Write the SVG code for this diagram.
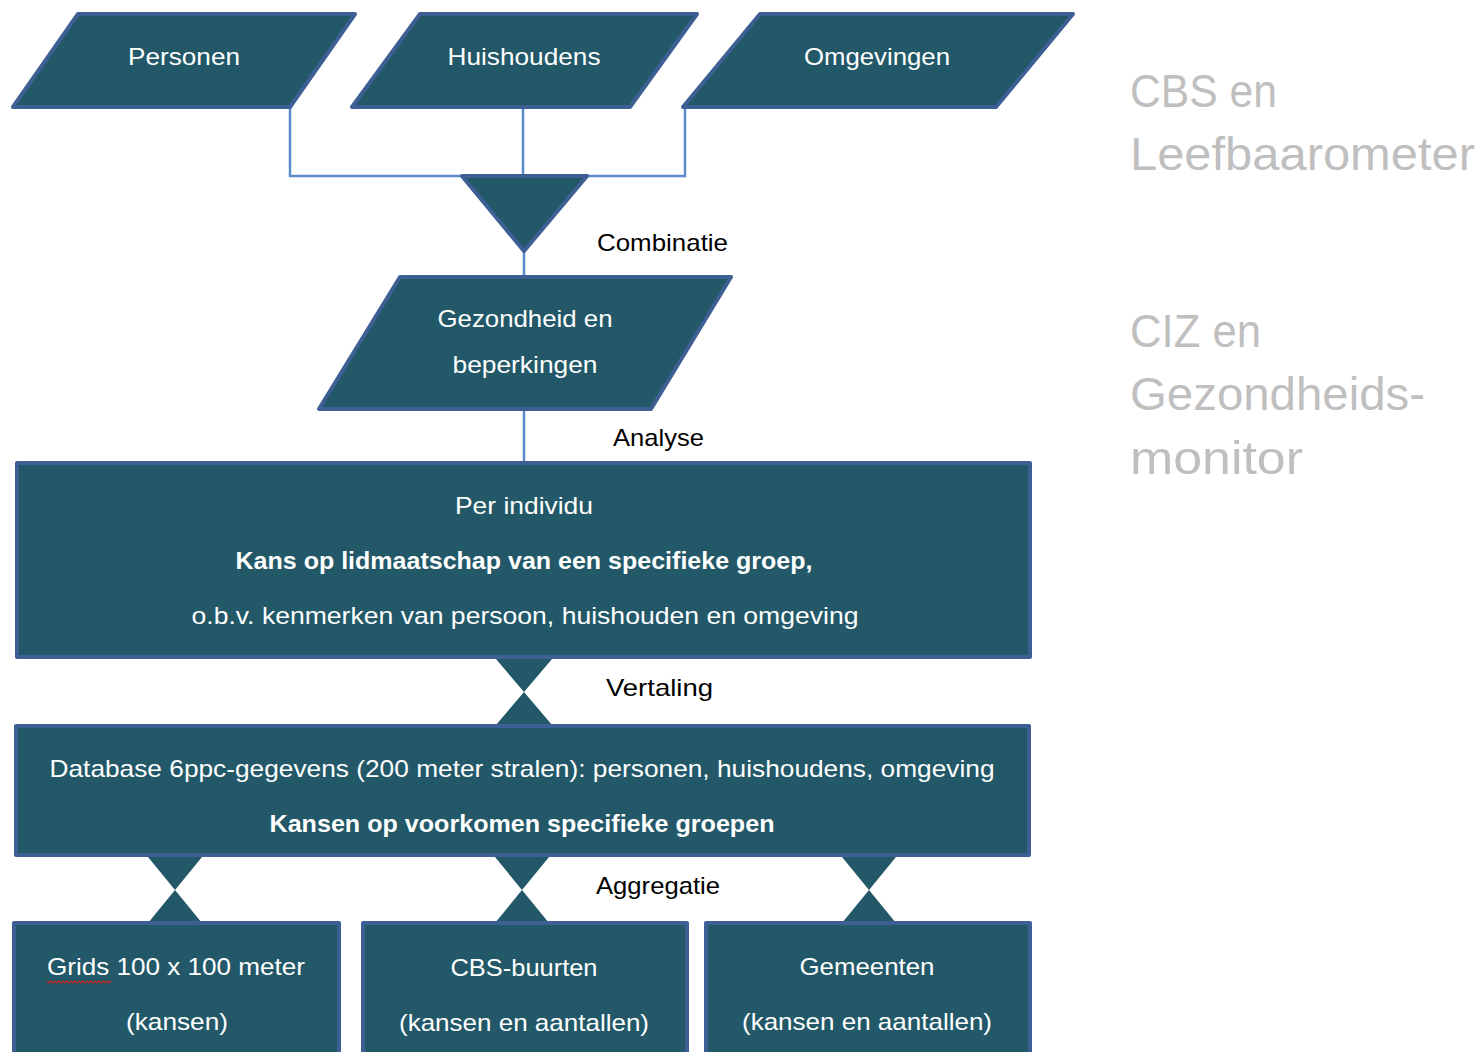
<svg xmlns="http://www.w3.org/2000/svg" width="1481" height="1052" viewBox="0 0 1481 1052">
<style>
.n{fill:#225868;stroke:#3d5f94;stroke-width:4;stroke-linejoin:round}
.c{fill:#225868;stroke:none}
.ln{fill:none;stroke:#5b8bcb;stroke-width:2.5}
.w{fill:#ffffff;font-family:"Liberation Sans",Arial,sans-serif;font-size:24px;text-anchor:middle}
.b{fill:#000000;font-family:"Liberation Sans",Arial,sans-serif;font-size:24px;text-anchor:start}
.g{fill:#bfbfbf;font-family:"Liberation Sans",Arial,sans-serif;font-size:47px;text-anchor:start}
</style>
<rect x="0" y="0" width="1481" height="1052" fill="#ffffff"/>
<g id="connectors">
<polyline class="ln" points="290,107 290,176 685,176 685,107"/>
<line class="ln" x1="523" y1="105" x2="523" y2="176"/>
<line class="ln" x1="524" y1="251" x2="524" y2="277"/>
<line class="ln" x1="524" y1="409" x2="524" y2="463"/>
<polygon class="c" points="496,659 552,659 524,692 552,725 496,725 524,692"/>
<polygon class="c" points="148,857 202,857 175,890 202,923 148,923 175,890"/>
<polygon class="c" points="495,857 549,857 522,890 549,923 495,923 522,890"/>
<polygon class="c" points="842,857 896,857 869,890 896,923 842,923 869,890"/>
</g>
<g id="personen"><polygon class="n" points="78,14 355,14 290,107 13,107"/><text class="w" x="184" y="65" textLength="112" lengthAdjust="spacingAndGlyphs">Personen</text></g>
<g id="huishoudens"><polygon class="n" points="420,14 697,14 630,107 352,107"/><text class="w" x="524" y="65" textLength="153" lengthAdjust="spacingAndGlyphs">Huishoudens</text></g>
<g id="omgevingen"><polygon class="n" points="760,14 1073,14 996,107 683,107"/><text class="w" x="877" y="65" textLength="146" lengthAdjust="spacingAndGlyphs">Omgevingen</text></g>
<g id="combinatie"><polygon class="n" points="462,176 587,176 524,251"/></g>
<g id="gezondheid"><polygon class="n" points="400,277 731,277 651,409 319,409"/><text class="w" x="525" y="327" textLength="175" lengthAdjust="spacingAndGlyphs">Gezondheid en</text><text class="w" x="525" y="373" textLength="145" lengthAdjust="spacingAndGlyphs">beperkingen</text></g>
<g id="per-individu"><rect class="n" x="17" y="463" width="1013" height="194"/><text class="w" x="524" y="514" textLength="138" lengthAdjust="spacingAndGlyphs">Per individu</text><text class="w" x="524" y="569" font-weight="bold" textLength="577" lengthAdjust="spacingAndGlyphs">Kans op lidmaatschap van een specifieke groep,</text><text class="w" x="525" y="624" textLength="667" lengthAdjust="spacingAndGlyphs">o.b.v. kenmerken van persoon, huishouden en omgeving</text></g>
<g id="database"><rect class="n" x="16" y="726" width="1013" height="129"/><text class="w" x="522" y="777" textLength="945" lengthAdjust="spacingAndGlyphs">Database 6ppc-gegevens (200 meter stralen): personen, huishoudens, omgeving</text><text class="w" x="522" y="832" font-weight="bold" textLength="505" lengthAdjust="spacingAndGlyphs">Kansen op voorkomen specifieke groepen</text></g>
<g id="grids"><rect class="n" x="14" y="923" width="325" height="140"/><text class="w" x="176" y="975" textLength="258" lengthAdjust="spacingAndGlyphs">Grids 100 x 100 meter</text><text class="w" x="177" y="1030" textLength="102" lengthAdjust="spacingAndGlyphs">(kansen)</text><polyline fill="none" stroke="#d02020" stroke-width="1.2" points="47,981 49,983 51,981 53,983 55,981 57,983 59,981 61,983 63,981 65,983 67,981 69,983 71,981 73,983 75,981 77,983 79,981 81,983 83,981 85,983 87,981 89,983 91,981 93,983 95,981 97,983 99,981 101,983 103,981 105,983 107,981 109,983 111,981"/></g>
<g id="cbs-buurten"><rect class="n" x="363" y="923" width="324" height="140"/><text class="w" x="524" y="976" textLength="147" lengthAdjust="spacingAndGlyphs">CBS-buurten</text><text class="w" x="524" y="1031" textLength="250" lengthAdjust="spacingAndGlyphs">(kansen en aantallen)</text></g>
<g id="gemeenten"><rect class="n" x="706" y="923" width="324" height="140"/><text class="w" x="867" y="975" textLength="135" lengthAdjust="spacingAndGlyphs">Gemeenten</text><text class="w" x="867" y="1030" textLength="250" lengthAdjust="spacingAndGlyphs">(kansen en aantallen)</text></g>
<g id="labels">
<text class="b" x="597" y="251" textLength="131" lengthAdjust="spacingAndGlyphs">Combinatie</text>
<text class="b" x="613" y="446" textLength="91" lengthAdjust="spacingAndGlyphs">Analyse</text>
<text class="b" x="606" y="696" textLength="107" lengthAdjust="spacingAndGlyphs">Vertaling</text>
<text class="b" x="596" y="894" textLength="124" lengthAdjust="spacingAndGlyphs">Aggregatie</text>
</g>
<g id="sources">
<text class="g" x="1130" y="107" textLength="147" lengthAdjust="spacingAndGlyphs">CBS en</text>
<text class="g" x="1130" y="170" textLength="345" lengthAdjust="spacingAndGlyphs">Leefbaarometer</text>
<text class="g" x="1130" y="347" textLength="131" lengthAdjust="spacingAndGlyphs">CIZ en</text>
<text class="g" x="1130" y="410" textLength="295" lengthAdjust="spacingAndGlyphs">Gezondheids-</text>
<text class="g" x="1130" y="474" textLength="173" lengthAdjust="spacingAndGlyphs">monitor</text>
</g>
</svg>
